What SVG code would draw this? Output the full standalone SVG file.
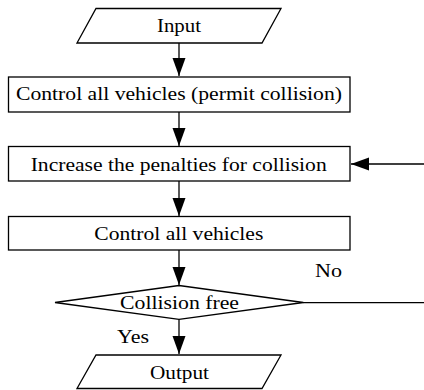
<svg xmlns="http://www.w3.org/2000/svg" width="424" height="390" viewBox="0 0 424 390">
<style>
.s{fill:#fff;stroke:#000;stroke-width:1.3}
.t{font-family:"Liberation Serif","Times New Roman",serif;font-size:18px;fill:#000}
.c{text-anchor:middle}
.l{fill:none;stroke:#000;stroke-width:1.3}
</style>
<defs>
<marker id="a" markerUnits="userSpaceOnUse" markerWidth="20" markerHeight="14" refX="18" refY="6.5" orient="auto"><path d="M0,0 L18,6.5 L0,13 Z" fill="#000"/></marker>
</defs>
<g id="connectors">
<path class="l" d="M179,43 V76" marker-end="url(#a)"/>
<path class="l" d="M179,112 V146" marker-end="url(#a)"/>
<path class="l" d="M179,181 V216" marker-end="url(#a)"/>
<path class="l" d="M179,250 V285" marker-end="url(#a)"/>
<path class="l" d="M179,319 V354" marker-end="url(#a)"/>
<path class="l" d="M303,302.7 H425 V164 H351" marker-end="url(#a)"/>
<text class="t" x="315" y="276.7" textLength="27" lengthAdjust="spacingAndGlyphs">No</text>
<text class="t" x="117" y="342.7" textLength="32" lengthAdjust="spacingAndGlyphs">Yes</text>
</g>
<g id="input">
<polygon class="s" points="96,8.5 281,8.5 262,43 77,43"/>
<text class="t c" x="179" y="32.3" textLength="44" lengthAdjust="spacingAndGlyphs">Input</text>
</g>
<g id="control1">
<rect class="s" x="8.5" y="77" width="341.5" height="35"/>
<text class="t c" x="179" y="100" textLength="326" lengthAdjust="spacingAndGlyphs">Control all vehicles (permit collision)</text>
</g>
<g id="increase">
<rect class="s" x="8.5" y="146.5" width="341.5" height="34.5"/>
<text class="t c" x="178.7" y="170.7" textLength="296" lengthAdjust="spacingAndGlyphs">Increase the penalties for collision</text>
</g>
<g id="control2">
<rect class="s" x="8.5" y="216.5" width="341.5" height="33.5"/>
<text class="t c" x="178.8" y="240" textLength="169" lengthAdjust="spacingAndGlyphs">Control all vehicles</text>
</g>
<g id="decision">
<polygon class="s" points="55,302.5 179,285.5 303.3,302.5 179,319.3"/>
<text class="t c" x="179.5" y="309.3" textLength="119" lengthAdjust="spacingAndGlyphs">Collision free</text>
</g>
<g id="output">
<polygon class="s" points="96,355 281,355 262,388.5 77,388.5"/>
<text class="t c" x="179.5" y="379" textLength="59" lengthAdjust="spacingAndGlyphs">Output</text>
</g>
</svg>
